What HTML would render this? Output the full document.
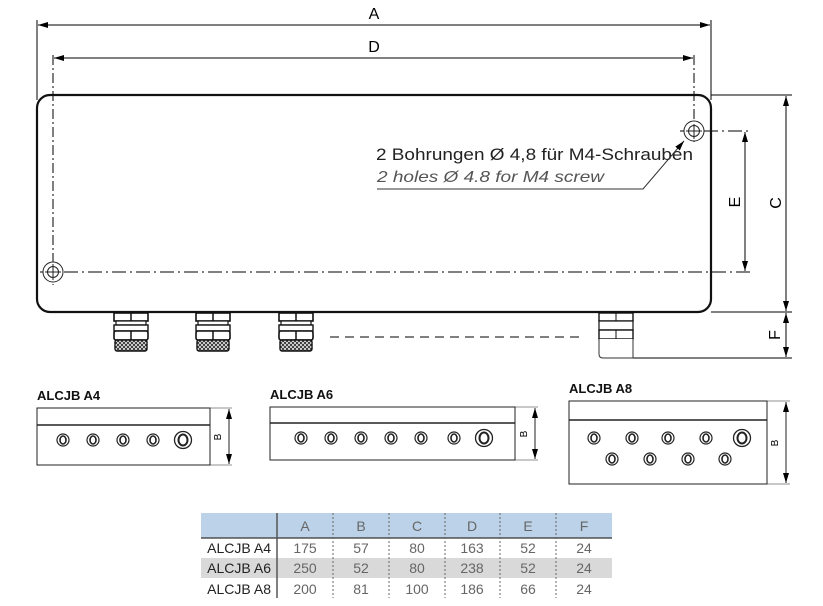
<!DOCTYPE html>
<html><head><style>body{margin:0;background:#fff}svg{display:block}text{font-family:"Liberation Sans",sans-serif}</style></head><body>
<svg width="823" height="606" viewBox="0 0 823 606" xmlns="http://www.w3.org/2000/svg">
<defs>
<marker id="ar" markerWidth="10" markerHeight="6" refX="10" refY="3" orient="auto-start-reverse" markerUnits="userSpaceOnUse"><path d="M0,0L10,3L0,6z" fill="#000"/></marker>
<pattern id="kn" width="4" height="4" patternUnits="userSpaceOnUse"><rect width="4" height="4" fill="#fff"/><path d="M0,0L4,4M4,0L0,4" stroke="#333" stroke-width="1"/></pattern>
<g id="gl">
<rect x="0" y="0" width="34" height="8" fill="#fff" stroke="#111" stroke-width="1.6"/><line x1="17" y1="0" x2="17" y2="8" stroke="#111" stroke-width="1.5"/>
<rect x="2" y="8" width="30" height="4" fill="#fff" stroke="#111" stroke-width="1.2"/>
<rect x="0" y="12" width="34" height="6" fill="#fff" stroke="#111" stroke-width="1.4"/>
<rect x="0" y="18" width="34" height="9" rx="2" fill="#fff" stroke="#111" stroke-width="1.6"/><line x1="17" y1="18" x2="17" y2="27" stroke="#111" stroke-width="1.5"/>
<rect x="1" y="27" width="32" height="11" rx="2" fill="url(#kn)" stroke="#111" stroke-width="1.4"/>
</g>
<g id="h"><circle r="6" fill="#fff" stroke="#222" stroke-width="1.2"/><ellipse rx="3" ry="4" fill="none" stroke="#222" stroke-width="1.6"/></g>
<g id="H"><circle r="8.5" fill="#fff" stroke="#222" stroke-width="1.3"/><ellipse rx="4.5" ry="5.5" fill="none" stroke="#222" stroke-width="2"/></g>
</defs>
<g stroke="#000" stroke-width="1" fill="none">
<line x1="37" y1="20" x2="37" y2="100"/><line x1="711" y1="20" x2="711" y2="100"/>
<line x1="38" y1="25" x2="710" y2="25" marker-start="url(#ar)" marker-end="url(#ar)"/>
<line x1="54" y1="58" x2="693" y2="58" marker-start="url(#ar)" marker-end="url(#ar)"/>
<line x1="53" y1="55" x2="53" y2="285" stroke-dasharray="10,3,2,3"/>
<line x1="694" y1="55" x2="694" y2="145" stroke-dasharray="10,3,2,3"/>
<line x1="40" y1="272" x2="750" y2="272" stroke-dasharray="14,4,2,4"/>
<line x1="680" y1="131" x2="750" y2="131" stroke-dasharray="14,4,2,4"/>
<line x1="711" y1="95" x2="792" y2="95"/><line x1="711" y1="312" x2="792" y2="312"/><line x1="630" y1="358" x2="792" y2="358"/>
<line x1="745" y1="132" x2="745" y2="271" marker-start="url(#ar)" marker-end="url(#ar)"/>
<line x1="786" y1="96" x2="786" y2="311" marker-start="url(#ar)" marker-end="url(#ar)"/>
<line x1="786" y1="313" x2="786" y2="357" marker-start="url(#ar)" marker-end="url(#ar)"/>
<line x1="330" y1="337" x2="580" y2="337" stroke-dasharray="9,6"/>
</g>
<rect x="37" y="95" width="674" height="217" rx="13" fill="none" stroke="#111" stroke-width="2.2"/>
<g fill="#fff" stroke="#222" stroke-width="1"><circle cx="694" cy="131" r="10"/><circle cx="694" cy="131" r="5.5"/><circle cx="53" cy="272" r="10"/><circle cx="53" cy="272" r="5.5"/></g>
<g stroke="#222" stroke-width="1"><line x1="694" y1="124" x2="694" y2="139"/><line x1="686" y1="131" x2="702" y2="131"/><line x1="53" y1="264" x2="53" y2="280"/><line x1="45" y1="272" x2="61" y2="272"/></g>
<text x="376" y="160" font-size="17" fill="#222" textLength="317" lengthAdjust="spacingAndGlyphs">2 Bohrungen Ø 4,8 für M4-Schrauben</text>
<text x="377" y="182" font-size="16" fill="#555" font-style="italic" textLength="227" lengthAdjust="spacingAndGlyphs">2 holes Ø 4.8 for M4 screw</text>
<polyline points="377,189 643,189 684,141" fill="none" stroke="#333" stroke-width="1" marker-end="url(#ar)"/>
<text x="374" y="19" font-size="16" text-anchor="middle">A</text>
<text x="374" y="52" font-size="16" text-anchor="middle">D</text>
<text transform="translate(740,202) rotate(-90)" font-size="16" text-anchor="middle">E</text>
<text transform="translate(781,203) rotate(-90)" font-size="16" text-anchor="middle">C</text>
<text transform="translate(780,335) rotate(-90)" font-size="16" text-anchor="middle">F</text>
<use href="#gl" x="114" y="313"/><use href="#gl" x="196" y="313"/><use href="#gl" x="279" y="313"/>
<g transform="translate(599,313)"><rect x="0" y="0" width="34" height="8" fill="#fff" stroke="#111" stroke-width="1.4"/><line x1="17" y1="0" x2="17" y2="8" stroke="#111"/><rect x="0" y="8" width="34" height="9" fill="#fff" stroke="#111" stroke-width="1.2"/><rect x="0" y="17" width="34" height="9" fill="#fff" stroke="#111" stroke-width="1.4"/><line x1="17" y1="17" x2="17" y2="26" stroke="#111"/><path d="M0,26 L0,41 Q0,45 4,45 L34,45 L34,26" fill="#fff" stroke="#333" stroke-width="1"/></g>
<g font-size="13" font-weight="bold" fill="#111"><text x="37" y="400">ALCJB A4</text><text x="270" y="399">ALCJB A6</text><text x="569" y="393">ALCJB A8</text></g>
<g fill="none" stroke="#222" stroke-width="1">
<rect x="37" y="408" width="173" height="57"/><line x1="37" y1="425" x2="210" y2="425" stroke-width="1.5"/>
<line x1="210" y1="408" x2="232" y2="408" stroke-width=".6"/><line x1="210" y1="465" x2="232" y2="465" stroke-width=".6"/><line x1="229" y1="409" x2="229" y2="464" marker-start="url(#ar)" marker-end="url(#ar)"/>
<rect x="270" y="407" width="245" height="53"/><line x1="270" y1="423" x2="515" y2="423" stroke-width="1.5"/>
<line x1="515" y1="407" x2="538" y2="407" stroke-width=".6"/><line x1="515" y1="460" x2="538" y2="460" stroke-width=".6"/><line x1="535" y1="408" x2="535" y2="459" marker-start="url(#ar)" marker-end="url(#ar)"/>
<rect x="569" y="401" width="198" height="83"/><line x1="569" y1="420" x2="767" y2="420" stroke-width="1.5"/>
<line x1="767" y1="401" x2="790" y2="401" stroke-width=".6"/><line x1="767" y1="484" x2="790" y2="484" stroke-width=".6"/><line x1="786" y1="402" x2="786" y2="483" marker-start="url(#ar)" marker-end="url(#ar)"/>
</g>
<g font-size="10"><text transform="translate(221,437) rotate(-90)" text-anchor="middle">B</text><text transform="translate(527,434) rotate(-90)" text-anchor="middle">B</text><text transform="translate(778,443) rotate(-90)" text-anchor="middle">B</text></g>
<use href="#h" x="63" y="440"/><use href="#h" x="93" y="440"/><use href="#h" x="123" y="440"/><use href="#h" x="153" y="440"/><use href="#H" x="183" y="440"/>
<use href="#h" x="301" y="438"/><use href="#h" x="331" y="438"/><use href="#h" x="361" y="438"/><use href="#h" x="391" y="438"/><use href="#h" x="421" y="438"/><use href="#h" x="454" y="438"/><use href="#H" x="484" y="438"/>
<use href="#h" x="594" y="438"/><use href="#h" x="632" y="438"/><use href="#h" x="668" y="438"/><use href="#h" x="706" y="438"/><use href="#H" x="742" y="438"/>
<use href="#h" x="612" y="459"/><use href="#h" x="650" y="459"/><use href="#h" x="688" y="459"/><use href="#h" x="725" y="459"/>
<rect x="201" y="513" width="411" height="25" fill="#bcd2e8"/>
<rect x="201" y="558" width="411" height="20" fill="#d9d9d9"/>
<line x1="201" y1="538" x2="612" y2="538" stroke="#333" stroke-width="1.2"/>
<line x1="277" y1="513" x2="277" y2="598" stroke="#555" stroke-width="1.5"/>
<g stroke="#666" stroke-width="1" stroke-dasharray="2,2"><line x1="333" y1="513" x2="333" y2="598"/><line x1="389" y1="513" x2="389" y2="598"/><line x1="445" y1="513" x2="445" y2="598"/><line x1="500" y1="513" x2="500" y2="598"/><line x1="556" y1="513" x2="556" y2="598"/></g>
<g font-size="14" fill="#666" text-anchor="middle">
<text x="305" y="531">A</text><text x="361" y="531">B</text><text x="417" y="531">C</text><text x="472" y="531">D</text><text x="528" y="531">E</text><text x="584" y="531">F</text>
<text x="305" y="553">175</text><text x="361" y="553">57</text><text x="417" y="553">80</text><text x="472" y="553">163</text><text x="528" y="553">52</text><text x="584" y="553">24</text>
<text x="305" y="573">250</text><text x="361" y="573">52</text><text x="417" y="573">80</text><text x="472" y="573">238</text><text x="528" y="573">52</text><text x="584" y="573">24</text>
<text x="305" y="594">200</text><text x="361" y="594">81</text><text x="417" y="594">100</text><text x="472" y="594">186</text><text x="528" y="594">66</text><text x="584" y="594">24</text>
</g>
<g font-size="14" fill="#222" text-anchor="end"><text x="271" y="553">ALCJB A4</text><text x="271" y="573">ALCJB A6</text><text x="271" y="594">ALCJB A8</text></g>
</svg>
</body></html>
